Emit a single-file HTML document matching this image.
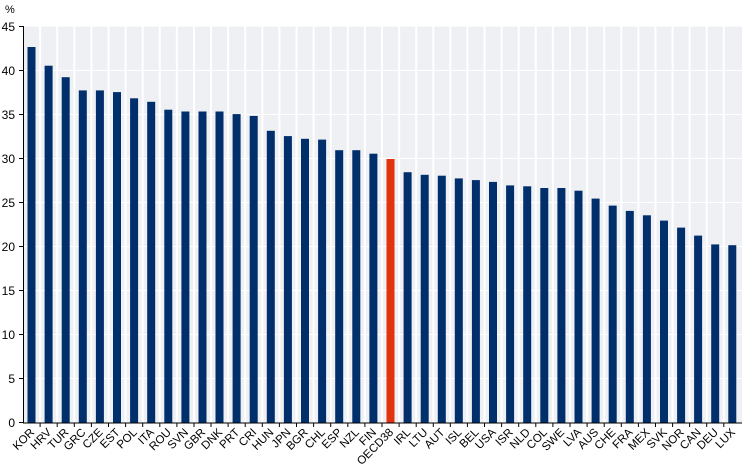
<!DOCTYPE html>
<html><head><meta charset="utf-8"><style>
html,body{margin:0;padding:0;background:#fff;}
svg{display:block;font-family:"Liberation Sans",Arial,sans-serif;}
</style></head><body>
<svg width="742" height="472" xmlns="http://www.w3.org/2000/svg">
<rect x="23" y="26.5" width="719" height="396" fill="#eef0f4"/>
<g stroke="#fff" stroke-width="1">
<line x1="23" x2="742" y1="70.5" y2="70.5"/><line x1="23" x2="742" y1="114.5" y2="114.5"/><line x1="23" x2="742" y1="158.5" y2="158.5"/><line x1="23" x2="742" y1="202.5" y2="202.5"/><line x1="23" x2="742" y1="246.5" y2="246.5"/><line x1="23" x2="742" y1="290.5" y2="290.5"/><line x1="23" x2="742" y1="334.5" y2="334.5"/><line x1="23" x2="742" y1="378.5" y2="378.5"/>
</g>
<g stroke="#fff" stroke-width="2">
<line x1="40.1" x2="40.1" y1="26" y2="423"/><line x1="57.2" x2="57.2" y1="26" y2="423"/><line x1="74.3" x2="74.3" y1="26" y2="423"/><line x1="91.4" x2="91.4" y1="26" y2="423"/><line x1="108.5" x2="108.5" y1="26" y2="423"/><line x1="125.6" x2="125.6" y1="26" y2="423"/><line x1="142.7" x2="142.7" y1="26" y2="423"/><line x1="159.8" x2="159.8" y1="26" y2="423"/><line x1="176.9" x2="176.9" y1="26" y2="423"/><line x1="194" x2="194" y1="26" y2="423"/><line x1="211" x2="211" y1="26" y2="423"/><line x1="228.1" x2="228.1" y1="26" y2="423"/><line x1="245.2" x2="245.2" y1="26" y2="423"/><line x1="262.3" x2="262.3" y1="26" y2="423"/><line x1="279.4" x2="279.4" y1="26" y2="423"/><line x1="296.5" x2="296.5" y1="26" y2="423"/><line x1="313.6" x2="313.6" y1="26" y2="423"/><line x1="330.7" x2="330.7" y1="26" y2="423"/><line x1="347.8" x2="347.8" y1="26" y2="423"/><line x1="364.9" x2="364.9" y1="26" y2="423"/><line x1="382" x2="382" y1="26" y2="423"/><line x1="399.1" x2="399.1" y1="26" y2="423"/><line x1="416.2" x2="416.2" y1="26" y2="423"/><line x1="433.3" x2="433.3" y1="26" y2="423"/><line x1="450.3" x2="450.3" y1="26" y2="423"/><line x1="467.4" x2="467.4" y1="26" y2="423"/><line x1="484.5" x2="484.5" y1="26" y2="423"/><line x1="501.6" x2="501.6" y1="26" y2="423"/><line x1="518.7" x2="518.7" y1="26" y2="423"/><line x1="535.8" x2="535.8" y1="26" y2="423"/><line x1="552.9" x2="552.9" y1="26" y2="423"/><line x1="570" x2="570" y1="26" y2="423"/><line x1="587.1" x2="587.1" y1="26" y2="423"/><line x1="604.2" x2="604.2" y1="26" y2="423"/><line x1="621.3" x2="621.3" y1="26" y2="423"/><line x1="638.4" x2="638.4" y1="26" y2="423"/><line x1="655.5" x2="655.5" y1="26" y2="423"/><line x1="672.6" x2="672.6" y1="26" y2="423"/><line x1="689.6" x2="689.6" y1="26" y2="423"/><line x1="706.7" x2="706.7" y1="26" y2="423"/><line x1="723.8" x2="723.8" y1="26" y2="423"/>
</g>
<g fill="#002f6c">
<rect x="27.5" y="47" width="8" height="376"/>
<rect x="44.6" y="65.7" width="8" height="357.3"/>
<rect x="61.7" y="77.2" width="8" height="345.8"/>
<rect x="78.8" y="90.4" width="8" height="332.6"/>
<rect x="95.9" y="90.4" width="8" height="332.6"/>
<rect x="113" y="92.1" width="8" height="330.9"/>
<rect x="130.1" y="98.3" width="8" height="324.7"/>
<rect x="147.2" y="101.8" width="8" height="321.2"/>
<rect x="164.3" y="109.7" width="8" height="313.3"/>
<rect x="181.4" y="111.5" width="8" height="311.5"/>
<rect x="198.5" y="111.5" width="8" height="311.5"/>
<rect x="215.5" y="111.5" width="8" height="311.5"/>
<rect x="232.6" y="114.1" width="8" height="308.9"/>
<rect x="249.7" y="115.9" width="8" height="307.1"/>
<rect x="266.8" y="130.8" width="8" height="292.2"/>
<rect x="283.9" y="136.1" width="8" height="286.9"/>
<rect x="301" y="138.8" width="8" height="284.2"/>
<rect x="318.1" y="139.6" width="8" height="283.4"/>
<rect x="335.2" y="150.2" width="8" height="272.8"/>
<rect x="352.3" y="150.2" width="8" height="272.8"/>
<rect x="369.4" y="153.7" width="8" height="269.3"/>
<rect x="403.6" y="172.2" width="8" height="250.8"/>
<rect x="420.7" y="174.8" width="8" height="248.2"/>
<rect x="437.8" y="175.7" width="8" height="247.3"/>
<rect x="454.8" y="178.4" width="8" height="244.6"/>
<rect x="471.9" y="180.1" width="8" height="242.9"/>
<rect x="489" y="181.9" width="8" height="241.1"/>
<rect x="506.1" y="185.4" width="8" height="237.6"/>
<rect x="523.2" y="186.3" width="8" height="236.7"/>
<rect x="540.3" y="188" width="8" height="235"/>
<rect x="557.4" y="188" width="8" height="235"/>
<rect x="574.5" y="190.7" width="8" height="232.3"/>
<rect x="591.6" y="198.6" width="8" height="224.4"/>
<rect x="608.7" y="205.6" width="8" height="217.4"/>
<rect x="625.8" y="210.9" width="8" height="212.1"/>
<rect x="642.9" y="215.3" width="8" height="207.7"/>
<rect x="660" y="220.6" width="8" height="202.4"/>
<rect x="677.1" y="227.6" width="8" height="195.4"/>
<rect x="694.1" y="235.6" width="8" height="187.4"/>
<rect x="711.2" y="244.4" width="8" height="178.6"/>
<rect x="728.3" y="245.2" width="8" height="177.8"/>
</g>
<rect x="386.5" y="159" width="8" height="264" fill="#e2320e"/>
<g stroke="#000" stroke-width="1">
<line x1="23.5" x2="23.5" y1="26" y2="423.5"/>
<line x1="23" x2="742" y1="423" y2="423"/>
<line x1="19" x2="23" y1="26.5" y2="26.5"/><line x1="19" x2="23" y1="70.5" y2="70.5"/><line x1="19" x2="23" y1="114.5" y2="114.5"/><line x1="19" x2="23" y1="158.5" y2="158.5"/><line x1="19" x2="23" y1="202.5" y2="202.5"/><line x1="19" x2="23" y1="246.5" y2="246.5"/><line x1="19" x2="23" y1="290.5" y2="290.5"/><line x1="19" x2="23" y1="334.5" y2="334.5"/><line x1="19" x2="23" y1="378.5" y2="378.5"/><line x1="19" x2="23" y1="422.5" y2="422.5"/>
<line x1="40.1" x2="40.1" y1="423" y2="427"/><line x1="57.2" x2="57.2" y1="423" y2="427"/><line x1="74.3" x2="74.3" y1="423" y2="427"/><line x1="91.4" x2="91.4" y1="423" y2="427"/><line x1="108.5" x2="108.5" y1="423" y2="427"/><line x1="125.6" x2="125.6" y1="423" y2="427"/><line x1="142.7" x2="142.7" y1="423" y2="427"/><line x1="159.8" x2="159.8" y1="423" y2="427"/><line x1="176.9" x2="176.9" y1="423" y2="427"/><line x1="194" x2="194" y1="423" y2="427"/><line x1="211" x2="211" y1="423" y2="427"/><line x1="228.1" x2="228.1" y1="423" y2="427"/><line x1="245.2" x2="245.2" y1="423" y2="427"/><line x1="262.3" x2="262.3" y1="423" y2="427"/><line x1="279.4" x2="279.4" y1="423" y2="427"/><line x1="296.5" x2="296.5" y1="423" y2="427"/><line x1="313.6" x2="313.6" y1="423" y2="427"/><line x1="330.7" x2="330.7" y1="423" y2="427"/><line x1="347.8" x2="347.8" y1="423" y2="427"/><line x1="364.9" x2="364.9" y1="423" y2="427"/><line x1="382" x2="382" y1="423" y2="427"/><line x1="399.1" x2="399.1" y1="423" y2="427"/><line x1="416.2" x2="416.2" y1="423" y2="427"/><line x1="433.3" x2="433.3" y1="423" y2="427"/><line x1="450.3" x2="450.3" y1="423" y2="427"/><line x1="467.4" x2="467.4" y1="423" y2="427"/><line x1="484.5" x2="484.5" y1="423" y2="427"/><line x1="501.6" x2="501.6" y1="423" y2="427"/><line x1="518.7" x2="518.7" y1="423" y2="427"/><line x1="535.8" x2="535.8" y1="423" y2="427"/><line x1="552.9" x2="552.9" y1="423" y2="427"/><line x1="570" x2="570" y1="423" y2="427"/><line x1="587.1" x2="587.1" y1="423" y2="427"/><line x1="604.2" x2="604.2" y1="423" y2="427"/><line x1="621.3" x2="621.3" y1="423" y2="427"/><line x1="638.4" x2="638.4" y1="423" y2="427"/><line x1="655.5" x2="655.5" y1="423" y2="427"/><line x1="672.6" x2="672.6" y1="423" y2="427"/><line x1="689.6" x2="689.6" y1="423" y2="427"/><line x1="706.7" x2="706.7" y1="423" y2="427"/><line x1="723.8" x2="723.8" y1="423" y2="427"/>
</g>
<g font-size="12" fill="#000" text-anchor="end">
<text x="15" y="31">45</text><text x="15" y="75">40</text><text x="15" y="119">35</text><text x="15" y="163">30</text><text x="15" y="207">25</text><text x="15" y="251">20</text><text x="15" y="295">15</text><text x="15" y="339">10</text><text x="15" y="383">5</text><text x="15" y="427">0</text>
</g>
<text x="5" y="13" font-size="11">%</text>
<g font-size="11.5" fill="#000" text-anchor="end">
<text transform="translate(35,433) rotate(-45)">KOR</text>
<text transform="translate(52.1,433) rotate(-45)">HRV</text>
<text transform="translate(69.2,433) rotate(-45)">TUR</text>
<text transform="translate(86.3,433) rotate(-45)">GRC</text>
<text transform="translate(103.4,433) rotate(-45)">CZE</text>
<text transform="translate(120.5,433) rotate(-45)">EST</text>
<text transform="translate(137.6,433) rotate(-45)">POL</text>
<text transform="translate(154.7,433) rotate(-45)">ITA</text>
<text transform="translate(171.8,433) rotate(-45)">ROU</text>
<text transform="translate(188.9,433) rotate(-45)">SVN</text>
<text transform="translate(206,433) rotate(-45)">GBR</text>
<text transform="translate(223,433) rotate(-45)">DNK</text>
<text transform="translate(240.1,433) rotate(-45)">PRT</text>
<text transform="translate(257.2,433) rotate(-45)">CRI</text>
<text transform="translate(274.3,433) rotate(-45)">HUN</text>
<text transform="translate(291.4,433) rotate(-45)">JPN</text>
<text transform="translate(308.5,433) rotate(-45)">BGR</text>
<text transform="translate(325.6,433) rotate(-45)">CHL</text>
<text transform="translate(342.7,433) rotate(-45)">ESP</text>
<text transform="translate(359.8,433) rotate(-45)">NZL</text>
<text transform="translate(376.9,433) rotate(-45)">FIN</text>
<text transform="translate(394,433) rotate(-45)">OECD38</text>
<text transform="translate(411.1,433) rotate(-45)">IRL</text>
<text transform="translate(428.2,433) rotate(-45)">LTU</text>
<text transform="translate(445.3,433) rotate(-45)">AUT</text>
<text transform="translate(462.3,433) rotate(-45)">ISL</text>
<text transform="translate(479.4,433) rotate(-45)">BEL</text>
<text transform="translate(496.5,433) rotate(-45)">USA</text>
<text transform="translate(513.6,433) rotate(-45)">ISR</text>
<text transform="translate(530.7,433) rotate(-45)">NLD</text>
<text transform="translate(547.8,433) rotate(-45)">COL</text>
<text transform="translate(564.9,433) rotate(-45)">SWE</text>
<text transform="translate(582,433) rotate(-45)">LVA</text>
<text transform="translate(599.1,433) rotate(-45)">AUS</text>
<text transform="translate(616.2,433) rotate(-45)">CHE</text>
<text transform="translate(633.3,433) rotate(-45)">FRA</text>
<text transform="translate(650.4,433) rotate(-45)">MEX</text>
<text transform="translate(667.5,433) rotate(-45)">SVK</text>
<text transform="translate(684.6,433) rotate(-45)">NOR</text>
<text transform="translate(701.6,433) rotate(-45)">CAN</text>
<text transform="translate(718.7,433) rotate(-45)">DEU</text>
<text transform="translate(735.8,433) rotate(-45)">LUX</text>
</g>
</svg>
</body></html>
